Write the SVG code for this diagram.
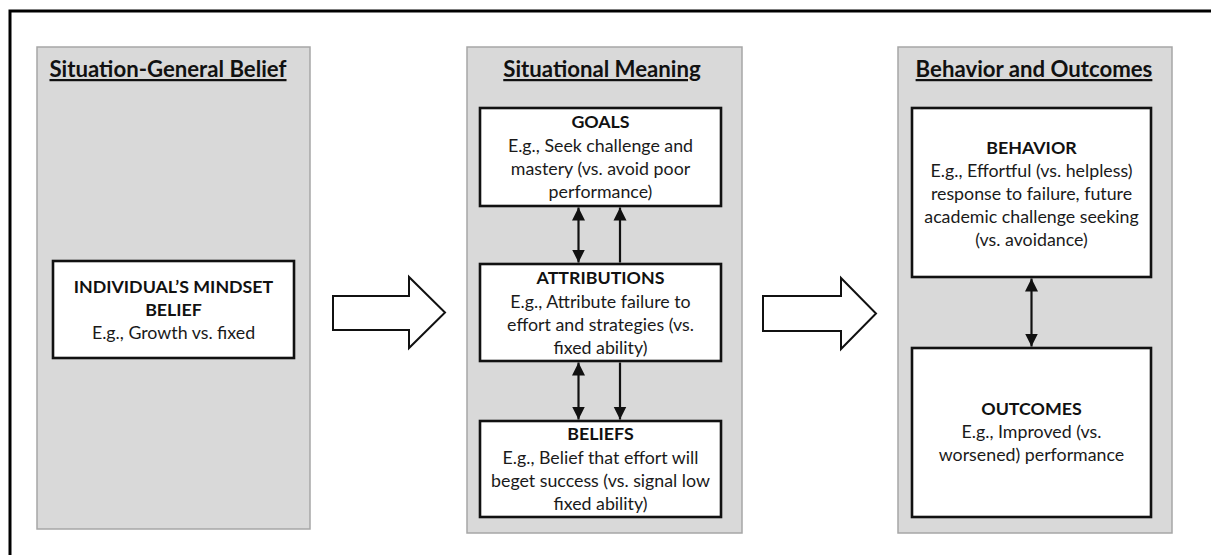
<svg xmlns="http://www.w3.org/2000/svg" width="1211" height="555" viewBox="0 0 1211 555">
<style>
.panel{fill:#d9d9d9;stroke:#a6a6a6;stroke-width:1.5}
.box{fill:#ffffff;stroke:#111;stroke-width:2.6}
.title{font-family:Lato,"Liberation Sans",sans-serif;font-weight:bold;font-size:22.2px;fill:#111;text-anchor:middle;text-decoration:underline}
.t{font-family:Lato,"Liberation Sans",sans-serif;font-size:17.8px;fill:#1a1a1a;text-anchor:middle}
.b{font-weight:bold;fill:#111}
.conn{stroke:#111;stroke-width:2.2;fill:none}
.block{fill:#fff;stroke:#111;stroke-width:2}
</style>
<defs>
<marker id="ah" markerUnits="userSpaceOnUse" markerWidth="14" markerHeight="14" refX="13" refY="6.5" orient="auto-start-reverse" viewBox="0 0 14 13">
<path d="M0,0 L13,6.5 L0,13 Z" fill="#111"/>
</marker>
</defs>
<rect width="1211" height="555" fill="#fff"/>
<path d="M10,560 L10,11 L1215,11" fill="none" stroke="#000" stroke-width="3"/>

<g id="panel-general">
<rect class="panel" x="37" y="47" width="273" height="482"/>
<text class="title" x="168" y="77">Situation-General Belief</text>
</g>
<g id="panel-meaning">
<rect class="panel" x="467" y="47" width="275" height="486"/>
<text class="title" x="602" y="77">Situational Meaning</text>
</g>
<g id="panel-behavior">
<rect class="panel" x="898" y="47" width="274" height="486"/>
<text class="title" x="1034" y="77">Behavior and Outcomes</text>
</g>

<g id="node-mindset">
<rect class="box" x="53" y="261" width="241" height="97"/>
<text class="t b" x="173.5" y="293">INDIVIDUAL’S MINDSET</text>
<text class="t b" x="173.5" y="315.5">BELIEF</text>
<text class="t" x="173.5" y="338.5">E.g., Growth vs. fixed</text>
</g>

<g id="node-goals">
<rect class="box" x="480" y="108" width="241" height="98"/>
<text class="t b" x="600.5" y="128">GOALS</text>
<text class="t" x="600.5" y="151.5">E.g., Seek challenge and</text>
<text class="t" x="600.5" y="174.5">mastery (vs. avoid poor</text>
<text class="t" x="600.5" y="197.5">performance)</text>
</g>

<g id="node-attributions">
<rect class="box" x="480" y="264" width="241" height="97"/>
<text class="t b" x="600.5" y="284">ATTRIBUTIONS</text>
<text class="t" x="600.5" y="307.5">E.g., Attribute failure to</text>
<text class="t" x="600.5" y="330.5">effort and strategies (vs.</text>
<text class="t" x="600.5" y="353.5">fixed ability)</text>
</g>

<g id="node-beliefs">
<rect class="box" x="480" y="421" width="241" height="96"/>
<text class="t b" x="600.5" y="440">BELIEFS</text>
<text class="t" x="600.5" y="463.5">E.g., Belief that effort will</text>
<text class="t" x="600.5" y="486.5">beget success (vs. signal low</text>
<text class="t" x="600.5" y="509.5">fixed ability)</text>
</g>

<g id="node-behavior">
<rect class="box" x="912" y="108" width="239" height="169"/>
<text class="t b" x="1031.5" y="153.5">BEHAVIOR</text>
<text class="t" x="1031.5" y="176.5">E.g., Effortful (vs. helpless)</text>
<text class="t" x="1031.5" y="199.5">response to failure, future</text>
<text class="t" x="1031.5" y="222.5">academic challenge seeking</text>
<text class="t" x="1031.5" y="245.5">(vs. avoidance)</text>
</g>

<g id="node-outcomes">
<rect class="box" x="912" y="348" width="239" height="169"/>
<text class="t b" x="1031.5" y="415">OUTCOMES</text>
<text class="t" x="1031.5" y="437.5">E.g., Improved (vs.</text>
<text class="t" x="1031.5" y="460.5">worsened) performance</text>
</g>

<g id="connectors">
<polygon class="block" points="333,296 409,296 409,277 445,312.5 409,348 409,330 333,330"/>
<polygon class="block" points="763,296 841,296 841,278 876,313.5 841,349 841,331 763,331"/>
<line class="conn" x1="578.5" y1="207.5" x2="578.5" y2="262.5" marker-start="url(#ah)" marker-end="url(#ah)"/>
<line class="conn" x1="620" y1="262.5" x2="620" y2="207.5" marker-end="url(#ah)"/>
<line class="conn" x1="578.5" y1="362.5" x2="578.5" y2="419.5" marker-start="url(#ah)" marker-end="url(#ah)"/>
<line class="conn" x1="620" y1="362.5" x2="620" y2="419.5" marker-end="url(#ah)"/>
<line class="conn" x1="1031.5" y1="278.5" x2="1031.5" y2="346.5" marker-start="url(#ah)" marker-end="url(#ah)"/>
</g>
</svg>
